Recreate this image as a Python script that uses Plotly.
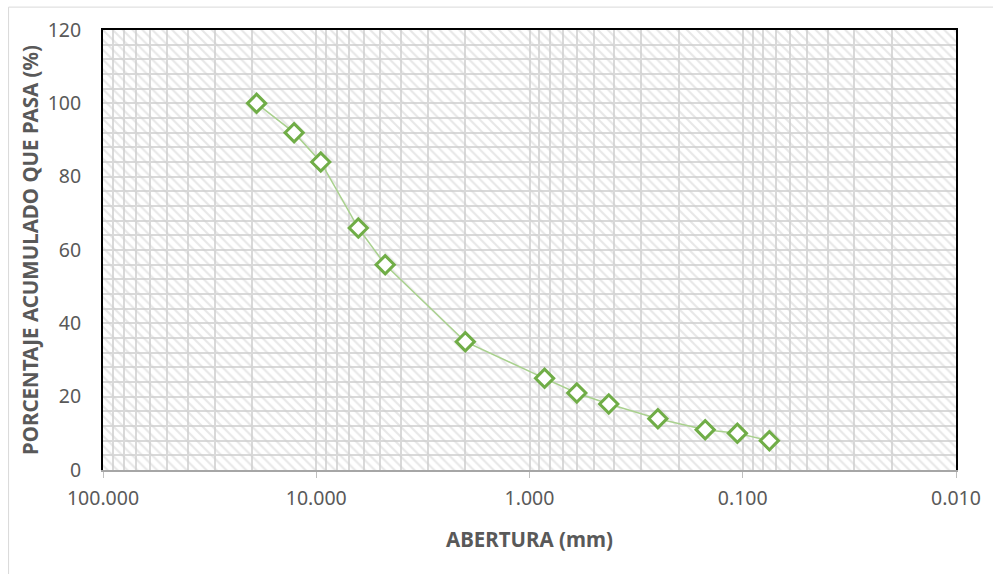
import plotly.graph_objects as go

abertura_mm = [19.05, 12.7, 9.525, 6.35, 4.75, 2.0, 0.85, 0.6, 0.425, 0.25, 0.15, 0.106, 0.075]
porcentaje_pasa = [100, 92, 84, 66, 56, 35, 25, 21, 18, 14, 11, 10, 8]

x_range = [100, 0.01]
y_range = [0, 120]

GRID = "#d9d9d9"
TXT = "#595959"
FONT = "Noto Sans"

fig = go.Figure()

# hatched plot-area background
fig.add_trace(go.Scatter(
    x=[x_range[0], x_range[1], x_range[1], x_range[0], x_range[0]],
    y=[y_range[0], y_range[0], y_range[1], y_range[1], y_range[0]],
    mode="lines", fill="toself", line=dict(width=0),
    fillcolor="rgba(0,0,0,0)",
    fillpattern=dict(shape="\\", fgcolor="#cfcfcf", bgcolor="rgba(255,255,255,0)",
                     size=7, solidity=0.3),
    hoverinfo="skip", showlegend=False,
))

fig.add_trace(go.Scatter(
    x=abertura_mm, y=porcentaje_pasa,
    mode="lines+markers",
    line=dict(color="#a9d18e", width=1.5),
    marker=dict(symbol="diamond", size=14, color="white",
                line=dict(color="#70ad47", width=3)),
    showlegend=False,
))

# top border line
fig.add_trace(go.Scatter(x=[None], y=[None], xaxis="x2", showlegend=False))

fig.update_layout(
    width=993, height=574,
    margin=dict(l=103, r=31, t=30, b=104),
    paper_bgcolor="white", plot_bgcolor="white",
    font=dict(family=FONT, color=TXT, size=19),
    xaxis=dict(
        type="log", range=[2, -2], dtick=1, tickformat=".3f",
        showgrid=True, gridcolor=GRID, gridwidth=1.5,
        minor=dict(dtick="D1", showgrid=True, gridcolor=GRID, gridwidth=1.5, ticks=""),
        showline=True, linecolor="#a6a6a6", linewidth=2,
        ticks="outside", ticklen=6, tickcolor="#bfbfbf", tickwidth=1,
        ticklabelstandoff=4,
        tickfont=dict(size=19.5, color=TXT),
        title=dict(text="<b>ABERTURA (mm)</b>", font=dict(size=20.5, color=TXT), standoff=22),
        zeroline=False,
    ),
    xaxis2=dict(
        type="log", range=[2, -2], overlaying="x", side="top",
        showline=True, linecolor="black", linewidth=2,
        showgrid=False, showticklabels=False, ticks="",
    ),
    yaxis=dict(
        range=[0, 120], dtick=20,
        showgrid=True, gridcolor=GRID, gridwidth=1.5,
        minor=dict(dtick=4, showgrid=True, gridcolor=GRID, gridwidth=1.5, ticks=""),
        showline=True, linecolor="black", linewidth=2, mirror=True,
        ticks="", ticklabelstandoff=16,
        tickfont=dict(size=19.5, color=TXT),
        title=dict(text="<b>PORCENTAJE ACUMULADO QUE PASA (%)</b>",
                   font=dict(size=20.5, color=TXT), standoff=3),
        zeroline=False,
    ),
    shapes=[dict(type="rect", xref="paper", yref="paper",
                 x0=-0.1107, x1=1.2, y0=-0.4, y1=1.052,
                 line=dict(color="#d9d9d9", width=1))],
)

fig.write_html("out.html")
